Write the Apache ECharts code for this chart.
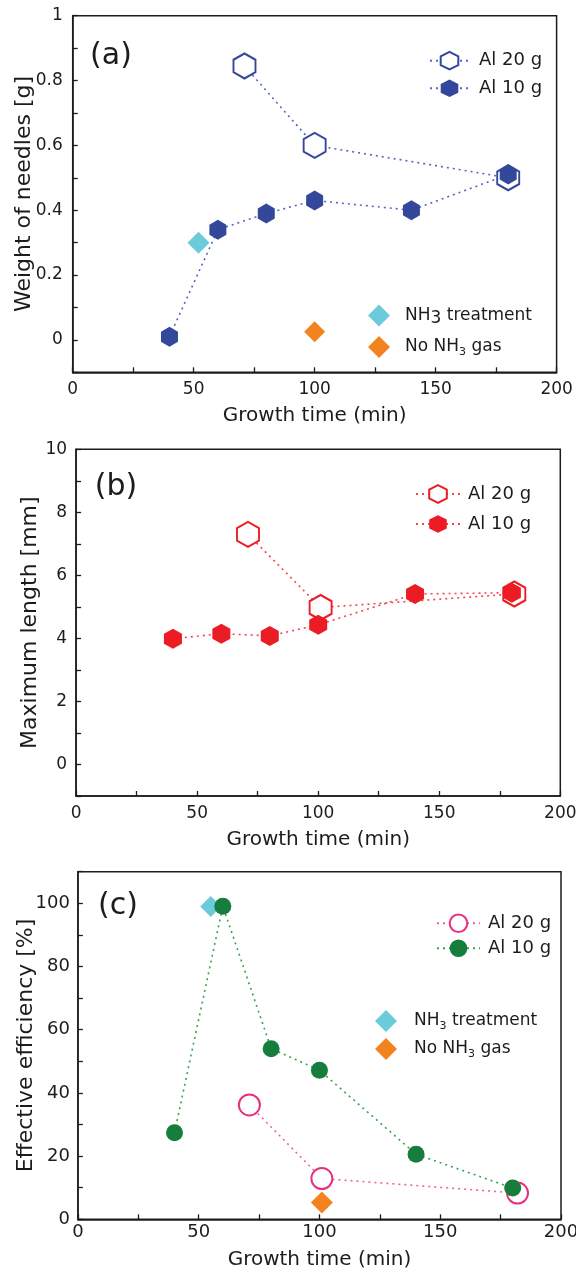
<!DOCTYPE html>
<html>
<head>
<meta charset="utf-8">
<title>Needle growth vs. growth time</title>
<script src="https://cdn.jsdelivr.net/npm/echarts@6/dist/echarts.min.js"></script>
<style>
  html, body { margin: 0; padding: 0; background: #fff; }
  #chart { width: 576px; height: 1272px; }
</style>
</head>
<body>
<div id="chart"></div>
<script>
// ---- data -------------------------------------------------------------
// growth times (min) of the Al 10 g runs, shared by all panels
const time10 = [40, 60, 80, 100, 140, 180];

// (a) weight of needles [g]
const timeA20 = [71, 100, 180];
const weightA20 = [0.845, 0.60, 0.50];
const weightA10 = [0.01, 0.34, 0.39, 0.43, 0.40, 0.51];
const nh3TreatA = [[52, 0.30]];
const noNh3A = [[100, 0.025]];

// (b) maximum length [mm]
const timeB20 = [71, 101, 181];
const lengthB20 = [7.3, 4.98, 5.41];
const lengthB10 = [3.99, 4.15, 4.08, 4.43, 5.41, 5.45];

// (c) effective efficiency [%]
const timeC20 = [71, 101, 182];
const effC20 = [36.2, 12.9, 8.3];
const effC10 = [27.4, 99.1, 54.0, 47.2, 20.6, 9.9];
const nh3TreatC = [[55, 99]];
const noNh3C = [[101, 5.3]];

// axis ranges and tick steps
const xRange = [0, 200, 25];
const yRangeA = [-0.1, 1, 0.1];
const yRangeB = [-1, 10, 1];
const yRangeC = [0, 110, 10];

// ---- styling ------------------------------------------------------------
const FONT = 'DejaVu Sans';
const INK = '#1c1c1c';
const BLUE = '#34489b', BLUE_LINE = '#5366c2';
const RED = '#ec1c24', RED_LINE = '#f0474e';
const PINK = '#e8307f', PINK_LINE = '#ee62a2';
const GREEN = '#177d3d', GREEN_LINE = '#35a34e';
const CYAN = '#6ccbda', ORANGE = '#f2831f';
const HEX = 'path://M0,-100 L86.6,-50 L86.6,50 L0,100 L-86.6,50 L-86.6,-50 Z';
const DOT = [2, 4];

const zip = (xs, ys) => xs.map((x, i) => [x, ys[i]]);
const displayName = n => n.replace(/ \([abc]\)$/, '');

const grids = [
  { left: 72.7, top: 15.7, width: 483.9, height: 356.6 },
  { left: 76.1, top: 449.3, width: 484.2, height: 346.7 },
  { left: 77.9, top: 871.7, width: 483.1, height: 347.6 }
].map(g => Object.assign(g, {
  show: true, borderColor: INK, borderWidth: 1.5, backgroundColor: 'transparent',
  containLabel: false, outerBoundsMode: 'none'
}));

function xAxisFor(i, margin, nameGap, labelSize) {
  return {
    type: 'value', gridIndex: i, min: xRange[0], max: xRange[1], interval: xRange[2],
    axisLine: { onZero: false, lineStyle: { color: INK, width: 1.5 } },
    axisTick: { inside: true, length: 5, lineStyle: { color: INK, width: 1.3 } },
    axisLabel: {
      formatter: v => (v % 50 === 0 ? String(v) : ''),
      fontSize: labelSize, fontFamily: FONT, color: INK, margin: margin
    },
    splitLine: { show: false },
    name: 'Growth time (min)', nameLocation: 'middle', nameGap: nameGap, nameMoveOverlap: false,
    nameTextStyle: { fontSize: 20, fontFamily: FONT, color: INK }
  };
}

function yAxisFor(i, range, labelFn, name, nameGap, margin, labelSize) {
  return {
    type: 'value', gridIndex: i, min: range[0], max: range[1], interval: range[2],
    axisLine: { lineStyle: { color: INK, width: 1.5 } },
    axisTick: { inside: true, length: 5, lineStyle: { color: INK, width: 1.3 } },
    axisLabel: { formatter: labelFn, fontSize: labelSize, fontFamily: FONT, color: INK, margin: margin },
    splitLine: { show: false },
    name: name, nameLocation: 'middle', nameGap: nameGap, nameMoveOverlap: false,
    nameTextStyle: { fontSize: 22, fontFamily: FONT, color: INK }
  };
}

function lineSeries(name, gi, data, symbolSize, fill, stroke, lineColor) {
  return {
    name: name, type: 'line', xAxisIndex: gi, yAxisIndex: gi, data: data,
    symbol: HEX, symbolSize: symbolSize,
    itemStyle: fill ? { color: fill, borderColor: stroke, borderWidth: 2, opacity: 1 } : { color: stroke, opacity: 1 },
    lineStyle: { color: lineColor, width: 1.6, type: DOT },
    emphasis: { disabled: true }
  };
}

function dotSeries(name, gi, data, symbol, symbolSize, fill, stroke, lineColor) {
  const s = lineSeries(name, gi, data, symbolSize, fill, stroke, lineColor);
  s.symbol = symbol;
  return s;
}

function markSeries(name, gi, data, color, size) {
  return {
    name: name, type: 'scatter', xAxisIndex: gi, yAxisIndex: gi, data: data,
    symbol: 'diamond', symbolSize: size, itemStyle: { color: color, opacity: 1 },
    emphasis: { disabled: true }
  };
}

const richBase = { fontSize: 17, fontFamily: FONT, color: INK, lineHeight: 22 };
const richText = {
  b: richBase,
  d: Object.assign({}, richBase, { padding: [6, 0, 0, 0] }),
  s: Object.assign({}, richBase, { fontSize: 11, padding: [10, 0, 0, 0] })
};

function legendFor(names, left, top, itemWidth, itemGap, padLeft, formatter, fontSize) {
  return {
    orient: 'vertical', left: left, top: top, padding: 0,
    itemWidth: itemWidth, itemHeight: 22, itemGap: itemGap,
    selectedMode: false, data: names,
    formatter: formatter || displayName,
    textStyle: {
      fontSize: fontSize || 18, fontFamily: FONT, color: INK, lineHeight: 22,
      padding: [0, 0, 0, padLeft], rich: richText
    }
  };
}

const nh3FormatA = n => n.startsWith('NH3')
  ? '{b|NH}{d|3}{b| treatment}'
  : '{b|No NH}{s|3}{b| gas}';
const nh3FormatC = n => n.startsWith('NH3')
  ? '{b|NH}{s|3}{b| treatment}'
  : '{b|No NH}{s|3}{b| gas}';

const evenTenth = v => { const r = Math.round(v * 10); return (r >= 0 && r % 2 === 0) ? String(r / 10) : ''; };
const evenUnit = v => { const r = Math.round(v); return (r >= 0 && r % 2 === 0) ? String(r) : ''; };
const twenties = v => { const r = Math.round(v); return (r % 20 === 0 && r <= 100) ? String(r) : ''; };

const option = {
  animation: false,
  backgroundColor: '#fff',
  grid: grids,
  xAxis: [xAxisFor(0, 9, 33, 17), xAxisFor(1, 9, 34, 17), xAxisFor(2, 4, 30, 18)],
  yAxis: [
    yAxisFor(0, yRangeA, evenTenth, 'Weight of needles [g]', 37, 10, 17),
    yAxisFor(1, yRangeB, evenUnit, 'Maximum length [mm]', 35, 9, 17),
    yAxisFor(2, yRangeC, twenties, 'Effective efficiency [%]', 41, 8, 18)
  ],
  legend: [
    legendFor(['Al 20 g (a)', 'Al 10 g (a)'], 429, 49.7, 39, 5.6, 5),
    legendFor(['NH3 treatment (a)', 'No NH3 gas (a)'], 368, 304, 22, 9, 10, nh3FormatA, 17),
    legendFor(['Al 20 g (b)', 'Al 10 g (b)'], 415, 483, 44, 8, 3),
    legendFor(['Al 20 g (c)', 'Al 10 g (c)'], 436, 912.3, 43, 3, 3),
    legendFor(['NH3 treatment (c)', 'No NH3 gas (c)'], 375, 1010, 22, 6, 12, nh3FormatC, 17)
  ],
  graphic: [
    { type: 'text', x: 111, y: 56, style: { text: '(a)', fontSize: 30, fontFamily: FONT, fill: INK, align: 'center', verticalAlign: 'middle' } },
    { type: 'text', x: 116, y: 487, style: { text: '(b)', fontSize: 30, fontFamily: FONT, fill: INK, align: 'center', verticalAlign: 'middle' } },
    { type: 'text', x: 118, y: 906, style: { text: '(c)', fontSize: 30, fontFamily: FONT, fill: INK, align: 'center', verticalAlign: 'middle' } }
  ],
  series: [
    // (a)
    lineSeries('Al 20 g (a)', 0, zip(timeA20, weightA20), [22, 25], '#fff', BLUE, BLUE_LINE),
    lineSeries('Al 10 g (a)', 0, zip(time10, weightA10), [17, 20], null, BLUE, BLUE_LINE),
    markSeries('NH3 treatment (a)', 0, nh3TreatA, CYAN, 22),
    markSeries('No NH3 gas (a)', 0, noNh3A, ORANGE, 21),
    // (b)
    lineSeries('Al 20 g (b)', 1, zip(timeB20, lengthB20), [22, 25], '#fff', RED, RED_LINE),
    lineSeries('Al 10 g (b)', 1, zip(time10, lengthB10), [18, 20], null, RED, RED_LINE),
    // (c)
    markSeries('NH3 treatment (c)', 2, nh3TreatC, CYAN, 21),
    markSeries('No NH3 gas (c)', 2, noNh3C, ORANGE, 22),
    dotSeries('Al 20 g (c)', 2, zip(timeC20, effC20), 'circle', 21, '#fff', PINK, PINK_LINE),
    dotSeries('Al 10 g (c)', 2, zip(time10, effC10), 'circle', 17, null, GREEN, GREEN_LINE)
  ]
};

const chart = echarts.init(document.getElementById('chart'), null, { renderer: 'canvas' });
chart.setOption(option);
</script>
</body>
</html>
